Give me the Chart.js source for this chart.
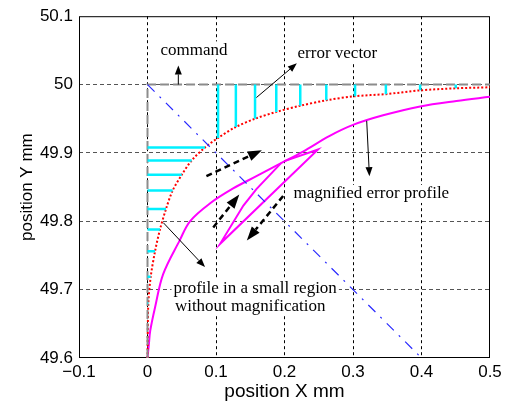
<!DOCTYPE html>
<html>
<head>
<meta charset="utf-8">
<script src="https://cdn.jsdelivr.net/npm/chart.js@4/dist/chart.umd.min.js"></script>
<style>
  html, body { margin: 0; padding: 0; background: #fff; }
</style>
</head>
<body>
<canvas id="profileChart" width="508" height="403"></canvas>
<script>
// command path
const commandX = [0, 0, 0.5];
const commandY = [49.6, 50, 50];

// actual path without magnification (red dotted)
const actualX = [0, 0.0012, 0.0047, 0.011, 0.0182, 0.027, 0.0367, 0.05, 0.0645, 0.084, 0.103, 0.129, 0.157, 0.188, 0.223, 0.261, 0.303, 0.348, 0.398, 0.45, 0.5];
const actualY = [49.6, 49.68, 49.719, 49.756, 49.788, 49.818, 49.845, 49.868, 49.889, 49.908, 49.922, 49.938, 49.95, 49.96, 49.969, 49.977, 49.983, 49.986, 49.9915, 49.9945, 49.996];

// error vectors (cyan)
const errVX = [0.103, 0.129, 0.157, 0.188, 0.223, 0.261, 0.303, 0.348, 0.398, 0.45];
const errVY = [49.922, 49.938, 49.95, 49.96, 49.969, 49.977, 49.983, 49.986, 49.9915, 49.9945];
const errHY = [49.908, 49.889, 49.868, 49.845, 49.818, 49.788, 49.756, 49.719, 49.68];
const errHX = [0.084, 0.0645, 0.05, 0.0367, 0.027, 0.0182, 0.011, 0.0047, 0.0012];

// magnified error profile (magenta)
const magX = [0, 0.002, 0.004, 0.011, 0.023, 0.047, 0.062, 0.091, 0.125, 0.159, 0.195, 0.227, 0.266, 0.3, 0.344, 0.398, 0.451, 0.5];
const magY = [49.6, 49.62, 49.64, 49.674, 49.723, 49.772, 49.8, 49.826, 49.848, 49.866, 49.885, 49.902, 49.925, 49.941, 49.955, 49.968, 49.976, 49.982];
const loopX = [0.195, 0.159, 0.14, 0.106, 0.249, 0.2];
const loopY = [49.885, 49.847, 49.823, 49.767, 49.905, 49.888];

// diagonal (blue dash-dot)
const diagX = [0, 0.4];
const diagY = [50, 49.6];

const xTicks = [-0.1, 0, 0.1, 0.2, 0.3, 0.4, 0.5];
const yTicks = [49.6, 49.7, 49.8, 49.9, 50, 50.1];

// notes
const noteText = ['command', 'error vector', 'magnified error profile', 'profile in a small region', 'without magnification'];
const noteX = [0.019, 0.219, 0.213, 0.038, 0.04];
const noteY = [50.05, 50.046, 49.84, 49.701, 49.675];

// arrows
const arrX1 = [0.045, 0.159, 0.32, 0.023, 0.086, 0.096, 0.198];
const arrY1 = [50.0, 49.981, 49.947, 49.798, 49.866, 49.791, 49.837];
const arrX2 = [0.045, 0.218, 0.324, 0.084, 0.167, 0.134, 0.145];
const arrY2 = [50.028, 50.031, 49.866, 49.733, 49.904, 49.839, 49.772];
const arrDashed = [false, false, false, false, true, true, true];

const pts = (xs, ys) => xs.map((x, i) => ({ x: x, y: ys[i] }));

const datasets = [];

// error vectors, one small dataset each
errVX.forEach((x, i) => {
	datasets.push({ data: [{ x: x, y: 50 }, { x: x, y: errVY[i] }], borderColor: '#00f0ff', borderWidth: 2.5 });
});
errHY.forEach((y, i) => {
	datasets.push({ data: [{ x: 0, y: y }, { x: errHX[i], y: y }], borderColor: '#00f0ff', borderWidth: 2.5 });
});

datasets.push({ data: pts(diagX, diagY), borderColor: '#2a2aff', borderWidth: 1.2, borderDash: [10, 7, 2, 7] });
datasets.push({ data: pts(commandX, commandY), borderColor: '#8c8c8c', borderWidth: 2, borderDash: [9, 4] });
datasets.push({ data: pts(actualX, actualY), borderColor: '#ff0000', borderWidth: 2, borderDash: [2, 2], tension: 0.3 });
datasets.push({ data: pts(magX, magY), borderColor: '#ff00ff', borderWidth: 2, tension: 0.35 });
datasets.push({ data: pts(loopX, loopY), borderColor: '#ff00ff', borderWidth: 2, tension: 0 });

function drawArrow(ctx, x1, y1, x2, y2, dashed) {
	const a = Math.atan2(y2 - y1, x2 - x1);
	const c = Math.cos(a), s = Math.sin(a);
	const head = dashed ? 14 : 9;
	const half = dashed ? 5 : 3.5;
	ctx.save();
	ctx.strokeStyle = '#000';
	ctx.fillStyle = '#000';
	ctx.lineWidth = dashed ? 2.5 : 1;
	ctx.setLineDash(dashed ? [6, 4] : []);
	ctx.beginPath();
	ctx.moveTo(x1, y1);
	ctx.lineTo(x2 - head * c, y2 - head * s);
	ctx.stroke();
	ctx.setLineDash([]);
	ctx.beginPath();
	ctx.moveTo(x2, y2);
	ctx.lineTo(x2 - head * c + half * s, y2 - head * s - half * c);
	ctx.lineTo(x2 - head * c - half * s, y2 - head * s + half * c);
	ctx.closePath();
	ctx.fill();
	ctx.restore();
}

const notesPlugin = {
	id: 'notes',
	beforeDatasetsDraw(chart) {
		const { ctx, chartArea: a } = chart;
		ctx.save();
		ctx.strokeStyle = '#000';
		ctx.lineWidth = 1;
		ctx.strokeRect(a.left + 0.5, a.top + 0.5, a.right - a.left - 1, a.bottom - a.top - 1);
		ctx.restore();
	},
	afterDatasetsDraw(chart) {
		const { ctx, scales: { x, y } } = chart;
		ctx.save();
		ctx.font = '17px "Liberation Serif", "Times New Roman", serif';
		ctx.textBaseline = 'middle';
		noteText.forEach((t, i) => {
			const px = x.getPixelForValue(noteX[i]);
			const py = y.getPixelForValue(noteY[i]);
			const w = ctx.measureText(t).width;
			ctx.fillStyle = '#fff';
			ctx.fillRect(px - 2, py - 9, w + 4, 18);
			ctx.fillStyle = '#000';
			ctx.fillText(t, px, py);
		});
		ctx.restore();
		arrX1.forEach((v, i) => {
			drawArrow(ctx, x.getPixelForValue(v), y.getPixelForValue(arrY1[i]),
				x.getPixelForValue(arrX2[i]), y.getPixelForValue(arrY2[i]), arrDashed[i]);
		});
	}
};

const fmt = (v) => {
	const s = String(Math.round(v * 10) / 10);
	return s.replace('-', '\u2212');
};

new Chart(document.getElementById('profileChart'), {
	type: 'line',
	data: { datasets: datasets },
	options: {
		responsive: false,
		animation: false,
		events: [],
		layout: { padding: { top: 15, right: 18, left: 0, bottom: 0 } },
		elements: { point: { radius: 0 }, line: { fill: false } },
		plugins: { legend: { display: false }, tooltip: { enabled: false } },
		scales: {
			x: {
				type: 'linear',
				min: -0.1,
				max: 0.5,
				afterBuildTicks: (s) => { s.ticks = xTicks.map((v) => ({ value: v })); },
				afterFit: (s) => { s.height = 45; },
				ticks: { callback: fmt, color: '#000', padding: 4, maxRotation: 0, font: { family: '"Liberation Sans", Arial, sans-serif', size: 17 } },
				grid: {
					drawTicks: false,
					lineWidth: 1,
					color: (c) => (c.index > 0 && c.index < xTicks.length - 1) ? '#000' : 'rgba(0,0,0,0)'
				},
				border: { display: false, dash: [3, 3] },
				title: { display: true, text: 'position X mm', color: '#000', padding: { top: 0, bottom: 0 }, font: { family: '"Liberation Sans", Arial, sans-serif', size: 19 } }
			},
			y: {
				type: 'linear',
				min: 49.6,
				max: 50.1,
				afterBuildTicks: (s) => { s.ticks = yTicks.map((v) => ({ value: v })); },
				afterFit: (s) => { s.width = 79; },
				ticks: { callback: fmt, color: '#000', padding: 6, font: { family: '"Liberation Sans", Arial, sans-serif', size: 17 } },
				grid: {
					drawTicks: false,
					lineWidth: 1,
					color: (c) => (c.index > 0 && c.index < yTicks.length - 1) ? '#555' : 'rgba(0,0,0,0)'
				},
				border: { display: false, dash: [4, 3] },
				title: { display: true, text: 'position Y mm', color: '#000', padding: { top: 17, bottom: 0 }, font: { family: '"Liberation Sans", Arial, sans-serif', size: 17 } }
			}
		}
	},
	plugins: [notesPlugin]
});
</script>
</body>
</html>
